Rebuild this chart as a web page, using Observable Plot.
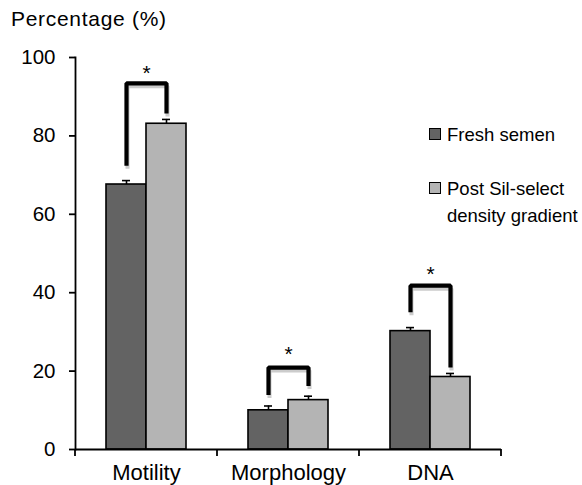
<!DOCTYPE html>
<html>
<head>
<meta charset="utf-8">
<script src="https://cdn.jsdelivr.net/npm/d3@7"></script>
<script src="https://cdn.jsdelivr.net/npm/@observablehq/plot@0.6"></script>
<style>
  html, body { margin: 0; padding: 0; background: #fff; }
  body { font-family: "Liberation Sans", Arial, sans-serif; color: #000; }
  #wrap { position: relative; width: 582px; height: 485px; overflow: hidden; }
  #ylabel { position: absolute; left: 11px; top: 7px; font-size: 21px; letter-spacing: 0.7px; white-space: nowrap; }
  .leg { position: absolute; left: 429px; font-size: 18.5px; line-height: 27px; white-space: nowrap; }
  .sw { position: absolute; left: 0; width: 12px; height: 12px; border: 1.5px solid #000; box-sizing: border-box; }
  .lt { position: absolute; left: 18px; top: 0; }
</style>
</head>
<body>
<div id="wrap"></div>
<script>
// ---- data ----
const categories = ["Motility", "Morphology", "DNA"];
const seriesNames = ["Fresh semen", "Post Sil-select density gradient"];
const freshValues = [67.6, 10.0, 30.2];
const postValues = [83.1, 12.6, 18.5];
const freshErrors = [1.0, 1.1, 0.9];
const postErrors = [1.1, 1.0, 0.9];
const bracketTop = [93.4, 20.9, 41.8];
const bracketLeftEnd = [72.4, 13.9, 35.0];
const bracketRightEnd = [85.7, 16.2, 20.9];
const starLevel = [96.0, 24.4, 44.8];
const yTicks = [0, 20, 40, 60, 80, 100];
const seriesColors = ["#636363", "#b4b4b4"];
const yLabel = "Percentage (%)";

// ---- tables built from the arrays ----
const rows = categories.flatMap((c, i) => [
  {category: c, series: seriesNames[0], value: freshValues[i], err: freshErrors[i]},
  {category: c, series: seriesNames[1], value: postValues[i], err: postErrors[i]}
]);
const brackets = categories.flatMap((c, i) => [
  {category: c, series: seriesNames[0], y: bracketLeftEnd[i]},
  {category: c, series: seriesNames[0], y: bracketTop[i]},
  {category: c, series: seriesNames[1], y: bracketTop[i]},
  {category: c, series: seriesNames[1], y: bracketRightEnd[i]}
]);
const stars = categories.map((c, i) => ({category: c, y: starLevel[i]}));

const plot = Plot.plot({
  width: 582,
  height: 485,
  marginLeft: 75,
  marginRight: 81,
  marginTop: 57,
  marginBottom: 36,
  style: {fontFamily: "'Liberation Sans', Arial, sans-serif", color: "#000", background: "#fff", overflow: "visible"},
  fx: {domain: categories, padding: 0, label: null},
  x: {domain: seriesNames, paddingInner: 0, paddingOuter: 0.744, axis: null},
  y: {domain: [0, 100], label: null},
  color: {domain: seriesNames, range: seriesColors},
  marks: [
    Plot.frame({anchor: "left", facetAnchor: "left", stroke: "#000", strokeWidth: 1.8}),
    Plot.axisY({ticks: yTicks, tickSize: 6, tickPadding: 14, fontSize: 20.5, label: null, strokeWidth: 1.8}),
    Plot.axisFx({anchor: "bottom", tickSize: 0, tickPadding: 14.5, fontSize: 22, label: null}),
    Plot.barY(rows, {fx: "category", x: "series", y: "value", fill: "series", stroke: "#000", strokeWidth: 1.6}),
    Plot.ruleX(rows, {fx: "category", x: "series", y1: "value", y2: d => d.value + d.err, stroke: "#000", strokeWidth: 1.6}),
    Plot.tickY(rows, {fx: "category", x: "series", y: d => d.value + d.err, stroke: "#000", strokeWidth: 1.6, insetLeft: 16, insetRight: 16}),
    Plot.ruleY([0], {stroke: "#000", strokeWidth: 1.8}),
    Plot.line(brackets, {fx: "category", x: "series", y: "y", stroke: "#cccccc", strokeWidth: 4, dx: 1, dy: 3, strokeLinejoin: "miter", strokeLinecap: "butt"}),
    Plot.line(brackets, {fx: "category", x: "series", y: "y", stroke: "#000", strokeWidth: 4.2, strokeLinejoin: "miter", strokeLinecap: "butt"}),
    Plot.text(stars, {fx: "category", y: "y", text: () => "*", fontSize: 21})
  ]
});

// tick marks below the category axis at the band boundaries, from Plot's scales
const fxs = plot.scale("fx");
const ys = plot.scale("y");
const y0 = ys.apply(0);
const edges = [...categories.map(c => fxs.apply(c)), fxs.apply(categories[categories.length - 1]) + fxs.bandwidth];
d3.select(plot).append("g")
  .attr("stroke", "#000").attr("stroke-width", 1.8)
  .selectAll("line").data(edges).join("line")
  .attr("x1", d => d).attr("x2", d => d)
  .attr("y1", y0).attr("y2", y0 + 7);

const wrap = document.getElementById("wrap");
wrap.appendChild(plot);

const yl = document.createElement("div");
yl.id = "ylabel";
yl.textContent = yLabel;
wrap.appendChild(yl);

// legend
const legendLines = [["Fresh semen"], ["Post Sil-select", "density gradient"]];
const legendTops = [121, 175];
seriesNames.forEach((s, i) => {
  const item = document.createElement("div");
  item.className = "leg";
  item.style.top = legendTops[i] + "px";
  const sw = document.createElement("div");
  sw.className = "sw";
  sw.style.background = seriesColors[i];
  sw.style.top = "7px";
  item.appendChild(sw);
  const t = document.createElement("div");
  t.className = "lt";
  t.innerHTML = legendLines[i].join("<br>");
  item.appendChild(t);
  wrap.appendChild(item);
});
</script>
</body>
</html>
